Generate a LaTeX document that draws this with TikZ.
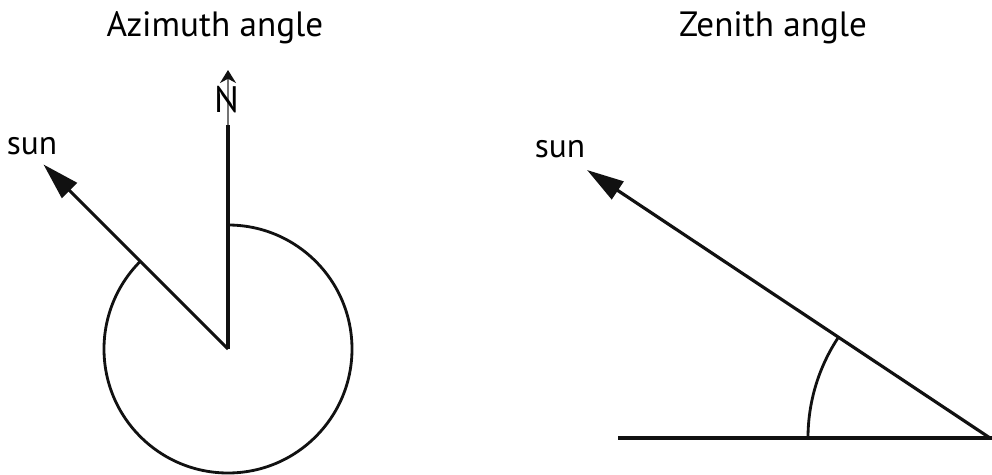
\documentclass[tikz,border=0pt]{standalone}
\usepackage{fontspec}
\setmainfont{PT Sans}
\usetikzlibrary{arrows.meta,calc,positioning}
\definecolor{InkBlack}{HTML}{111111}
\tikzset{
  stroke/.style={draw=InkBlack,line width=1.8pt},
  sunray/.style={-{Triangle[length=7.4mm,width=4.2mm]},draw=InkBlack,line width=1.8pt},
  northtip/.style={-{Stealth[length=2.6mm,width=3.2mm,InkBlack]},draw=black!55,line width=1pt},
  anglearc/.style={draw=InkBlack,line width=1.6pt},
  figlabel/.style={font=\fontsize{19}{22}\selectfont,inner sep=0pt,anchor=base},
  paneltitle/.style={font=\fontsize{20}{24}\selectfont,inner sep=0pt,anchor=base}
}
\begin{document}
\begin{tikzpicture}[x=0.02cm,y=0.02cm]
  \useasboundingbox (0,0) rectangle (992,474);
  % azimuth panel
  \node[paneltitle] (aztitle) at (215,437) {Azimuth angle};
  \coordinate (o) at (228,125);
  \coordinate (ntop) at (228,349);
  \coordinate (ntip) at (228,404);
  \coordinate (suntipL) at ($(o)+(135:261)$);
  \node[figlabel] (sunL) at (32,319) {sun};
  \draw[anglearc] ($(o)+(90:124)$) arc[start angle=90,end angle=-225,radius=124];
  \draw[stroke] (o)--(ntop);
  \draw[northtip] (ntop)--(ntip);
  \node[figlabel,font=\fontsize{21}{24}\selectfont] (north) at (226.5,361) {N};
  \draw[sunray] (o)--(suntipL);
  % zenith panel
  \node[paneltitle] (zentitle) at (773,437) {Zenith angle};
  \coordinate (v) at (990,36);
  \coordinate (ground) at (618,36);
  \coordinate (suntipR) at (587,304);
  \node[figlabel] (sunR) at (560,316) {sun};
  \draw[stroke] (ground)--(992,36);
  \draw[sunray] (v)--(suntipR);
  \draw[anglearc] ($(v)+(180:182)$) arc[start angle=180,end angle=146.4,radius=182];
\end{tikzpicture}
\end{document}
